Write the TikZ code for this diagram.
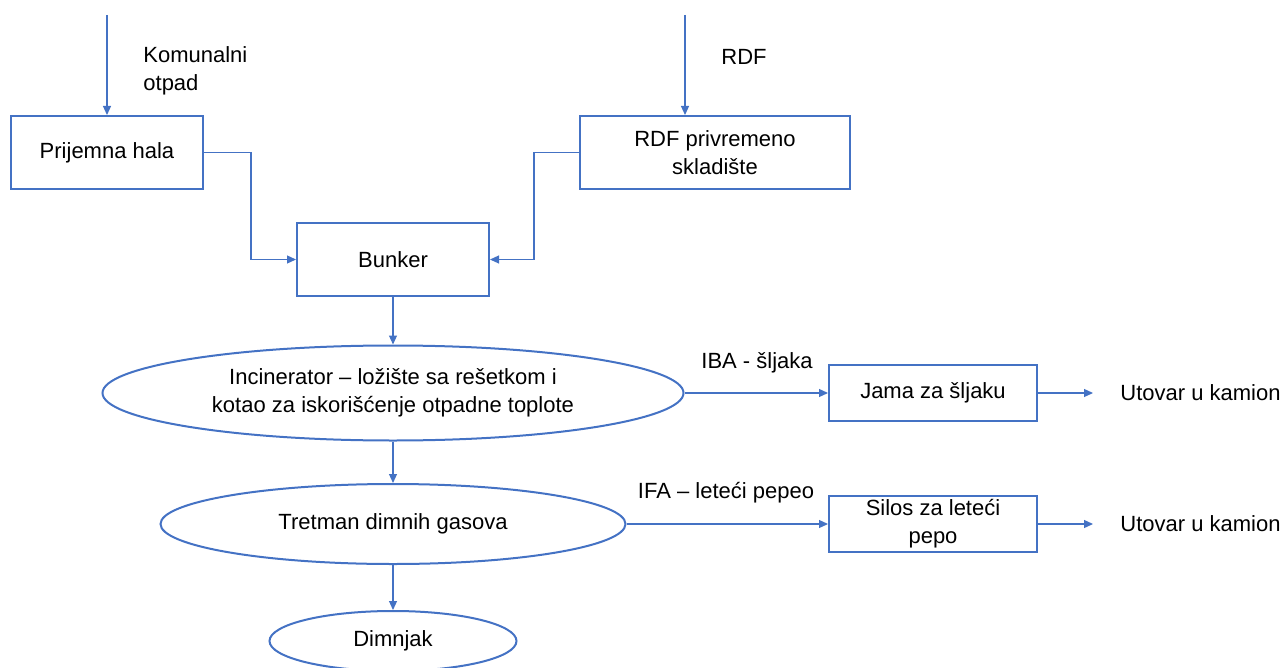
\documentclass[tikz,border=0pt]{standalone}
\usepackage{fontspec}
\setmainfont{Liberation Sans}
\usepackage{tikz}
\usetikzlibrary{arrows.meta, positioning, shapes.geometric}
\usepackage{xcolor}
\definecolor{flowblue}{HTML}{4472C4}

\begin{document}
\begin{tikzpicture}[x=0.5pt, y=-0.5pt, font=\fontsize{11}{14}\selectfont,
  box/.style={draw=flowblue, line width=1pt, rectangle, inner sep=0pt, align=center},
  oval/.style={draw=flowblue, line width=1pt, ellipse, inner sep=0pt, align=center},
  lbl/.style={inner sep=0pt, align=left},
  flow/.style={draw=flowblue, line width=0.6pt, -{Triangle[length=4.5pt, width=4pt]}}]
  \useasboundingbox (0,0) rectangle (1288,668);
  \node (prijemna) [box, minimum width=96pt, minimum height=36.5pt] at (107,152.5) {Prijemna hala};
  \node (rdf) [box, minimum width=135pt, minimum height=36.5pt] at (715,152.5) {RDF privremeno\\skladište};
  \node (bunker) [box, minimum width=96pt, minimum height=36.5pt] at (393,259.5) {Bunker};
  \node (incin) [oval, minimum width=290.5pt, minimum height=47.5pt] at (393,393) {Incinerator -- ložište sa rešetkom i\\kotao za iskorišćenje otpadne toplote};
  \node (tretman) [oval, minimum width=232.5pt, minimum height=40pt] at (393,524) {Tretman dimnih gasova};
  \node (dimnjak) [oval, minimum width=123.5pt, minimum height=30pt] at (393,641) {Dimnjak};
  \node (jama) [box, minimum width=104pt, minimum height=28pt] at (933,393) {Jama za šljaku};
  \node (silos) [box, minimum width=104pt, minimum height=28pt] at (933,524) {Silos za leteći\\pepo};
  \node (utovar1) [lbl, anchor=west] at (1120,393) {Utovar u kamion};
  \node (utovar2) [lbl, anchor=west] at (1120,524) {Utovar u kamion};
  \node (komunalni) [lbl, anchor=west] at (143,71) {Komunalni\\otpad};
  \node (rdfin) [lbl] at (744,57) {RDF};
  \node (iba) [lbl] at (757,363) {IBA - šljaka};
  \node (ifa) [lbl] at (726,493) {IFA -- leteći pepeo};
  \coordinate (in1) at (107,15);
  \coordinate (in2) at (685,15);
  % ulazi
  \draw[flow] (in1) -- (prijemna.north);
  \draw[flow] (in2) -- (in2 |- rdf.north);
  \draw[flow] (prijemna.east) -- ++(47,0) |- (bunker.west);
  \draw[flow] (rdf.west) -- ++(-45,0) |- (bunker.east);
  % glavna linija
  \draw[flow] (bunker.south) -- (incin.north);
  \draw[flow] (incin.south) -- (tretman.north);
  \draw[flow] (tretman.south) -- (dimnjak.north);
  % ostaci
  \draw[flow] (incin.east) -- (jama.west);
  \draw[flow] (tretman.east) -- (silos.west);
  \draw[flow, shorten >=13.5pt] (jama.east) -- (utovar1.west);
  \draw[flow, shorten >=13.5pt] (silos.east) -- (utovar2.west);
\end{tikzpicture}
\end{document}
